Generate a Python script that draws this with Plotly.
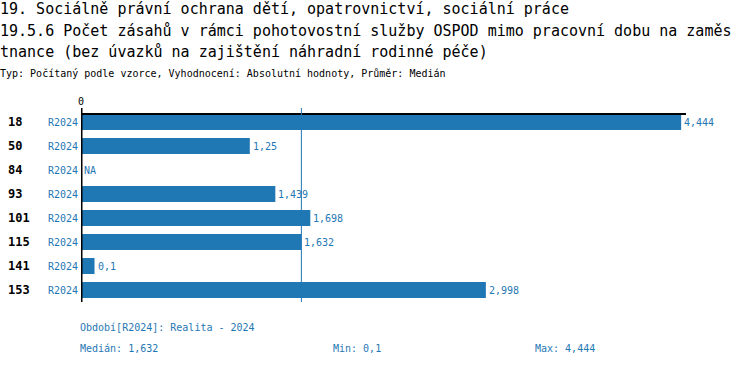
import plotly.graph_objects as go
import statistics

codes = ["18", "50", "84", "93", "101", "115", "141", "153"]
period = "R2024"
values = [4.444, 1.25, None, 1.439, 1.698, 1.632, 0.1, 2.998]
title_lines = [
    "19. Sociálně právní ochrana dětí, opatrovnictví, sociální práce",
    "19.5.6 Počet zásahů v rámci pohotovostní služby OSPOD mimo pracovní dobu na zaměs",
    "tnance (bez úvazků na zajištění náhradní rodinné péče)",
]
subtitle = "Typ: Počítaný podle vzorce, Vyhodnocení: Absolutní hodnoty, Průměr: Medián"
period_note = "Období[R2024]: Realita - 2024"

BLUE = "#1f77b4"
FONT = "DejaVu Sans Mono"
W, H = 750, 366
L, R, T, B = 81, 64, 100, 64
PW, PH = W - L - R, H - T - B
XMAX = 4.48


def fmt(v):
    return "NA" if v is None else ("%g" % v).replace(".", ",")


def px(x):
    return (x - L) / PW


def py(y):
    return (H - B - y) / PH


valid = [v for v in values if v is not None]
med, vmin, vmax = statistics.median(valid), min(valid), max(valid)

rows = list(range(len(codes)))
fig = go.Figure(go.Bar(
    x=[v if v is not None else 0 for v in values], y=rows, orientation="h",
    marker=dict(color=BLUE, line=dict(width=0)), width=0.667,
    hoverinfo="skip",
))

NOPAD = dict(borderpad=0, borderwidth=0, showarrow=False)
ann = []
for i, (c, v) in enumerate(zip(codes, values)):
    ann.append(dict(x=px(8), xref="paper", y=i, yref="y", text="<b>%s</b>" % c,
                    xanchor="left", yanchor="middle", **NOPAD,
                    font=dict(family=FONT, size=12, color="black")))
    ann.append(dict(x=px(78), xref="paper", y=i, yref="y", text=period,
                    xanchor="right", yanchor="middle", **NOPAD,
                    font=dict(family=FONT, size=10, color=BLUE)))
    ann.append(dict(x=v if v is not None else 0, xref="x", y=i, yref="y", text=fmt(v),
                    xanchor="left", yanchor="middle", xshift=3, **NOPAD,
                    font=dict(family=FONT, size=10, color=BLUE)))

ann.append(dict(x=0, xref="x", y=-0.85, yref="y", text="0", xanchor="center",
                yanchor="middle", **NOPAD,
                font=dict(family=FONT, size=10, color="black")))

for j, (t, y, s) in enumerate(zip(title_lines + [subtitle], [9, 31, 52, 73], [15, 15, 15, 10])):
    ann.append(dict(x=px(0), xref="paper", y=py(y), yref="paper", text=t,
                    xanchor="left", yanchor="middle", **NOPAD,
                    font=dict(family=FONT, size=s, color="black")))

foot = [(80, 327, period_note), (80, 348, "Medián: " + fmt(med)),
        (333, 348, "Min: " + fmt(vmin)), (535, 348, "Max: " + fmt(vmax))]
for x, y, t in foot:
    ann.append(dict(x=px(x), xref="paper", y=py(y), yref="paper", text=t,
                    xanchor="left", yanchor="middle", **NOPAD,
                    font=dict(family=FONT, size=10, color=BLUE)))

shapes = [
    dict(type="line", xref="x", yref="y", x0=0, x1=XMAX, y0=-0.333, y1=-0.333,
         line=dict(color="black", width=2)),
    dict(type="line", xref="x", yref="y", x0=0, x1=0, y0=-0.583, y1=7.5,
         line=dict(color="black", width=3)),
    dict(type="line", xref="x", yref="y", x0=med, x1=med, y0=-0.583, y1=7.5,
         line=dict(color=BLUE, width=1)),
]

fig.update_layout(
    width=W, height=H, margin=dict(l=L, r=R, t=T, b=B),
    paper_bgcolor="white", plot_bgcolor="white", showlegend=False,
    xaxis=dict(range=[0, XMAX], visible=False),
    yaxis=dict(range=[7.5, -0.9167], visible=False),
    annotations=ann, shapes=shapes,
)
fig.update_traces(cliponaxis=False)
fig.write_html("out.html", config={"displayModeBar": False},
               post_script="document.body.style.margin='0';document.body.style.overflow='hidden';")
